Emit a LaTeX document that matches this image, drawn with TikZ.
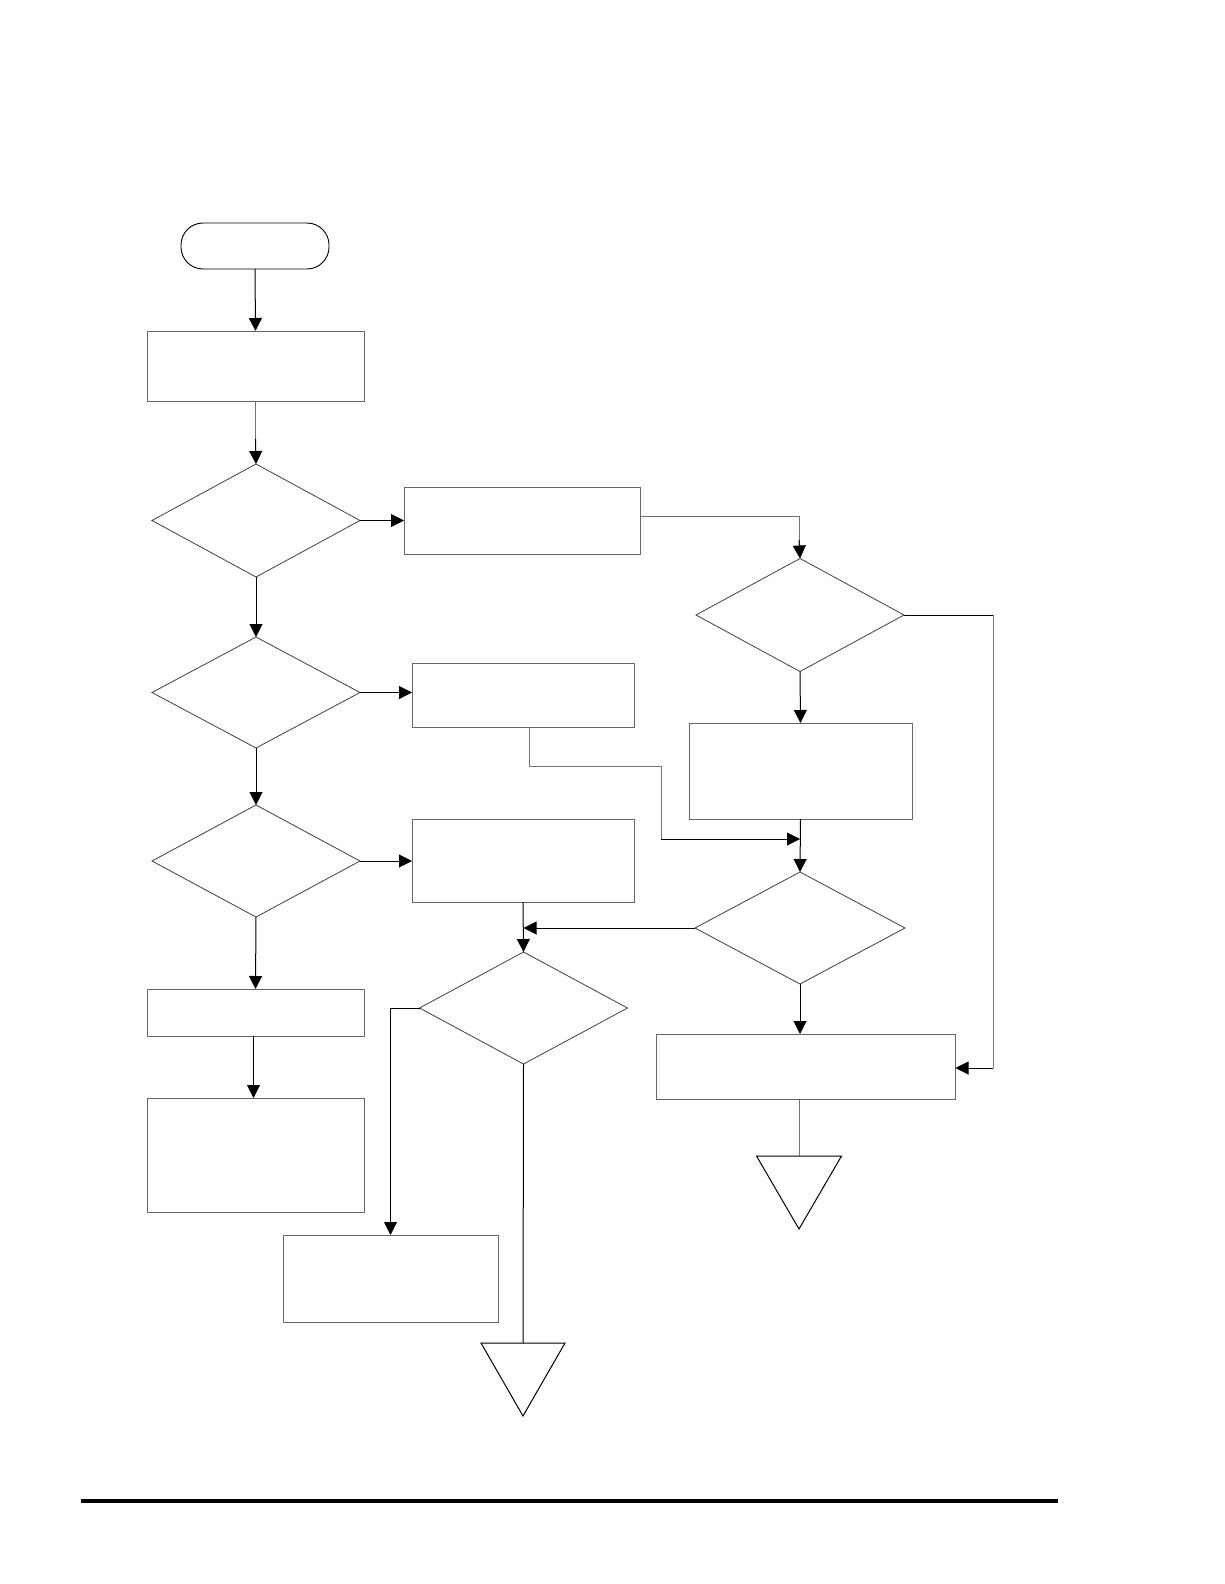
\documentclass[tikz,border=0pt]{standalone}
\usetikzlibrary{shapes.geometric,arrows.meta}
\begin{document}
\begin{tikzpicture}[x=1pt,y=-1pt,
  box/.style={draw=black!60,line width=0.8pt,rectangle,inner sep=0pt,outer sep=0pt},
  term/.style={draw=black,line width=0.9pt,rectangle,rounded corners=22pt,inner sep=0pt,outer sep=0pt},
  dec/.style={draw=black!75,line width=0.8pt,diamond,inner sep=0pt,outer sep=0pt,minimum width=208pt,minimum height=112pt},
  conn/.style={draw=black,line width=1pt},
  gconn/.style={draw=black!55,line width=0.9pt},
  arr/.style={-{Triangle[length=13pt,width=13pt]}},
  tri/.style={draw=black,line width=1pt,line join=miter}]
\fill[white] (0,0) rectangle (1224,1584);
\useasboundingbox (0,0) rectangle (1224,1584);

% nodes
\node[term,minimum width=148pt,minimum height=46pt] (start) at (255,246) {};
\node[box,minimum width=217pt,minimum height=70pt] (b1) at (255.5,366) {};
\node[dec,minimum height=113pt] (d1) at (256,520.5) {};
\node[box,minimum width=236pt,minimum height=67pt] (b2) at (522,520.5) {};
\node[dec,minimum height=111pt] (d2) at (256,692.5) {};
\node[box,minimum width=222pt,minimum height=64pt] (b3) at (523,695) {};
\node[dec] (d3) at (256,861) {};
\node[box,minimum width=222pt,minimum height=83pt] (b4) at (523,860.5) {};
\node[box,minimum width=217pt,minimum height=47pt] (l3) at (255.5,1012.5) {};
\node[box,minimum width=217pt,minimum height=114pt] (l4) at (255.5,1155) {};
\node[dec] (d4) at (523.5,1008) {};
\node[box,minimum width=215pt,minimum height=87pt] (l5) at (390.5,1278.5) {};
\node[dec,minimum height=113pt] (r1) at (800,615) {};
\node[box,minimum width=223pt,minimum height=96pt] (r2) at (800.5,771) {};
\node[dec,minimum width=210pt] (d5) at (800,928) {};
\node[box,minimum width=299pt,minimum height=65pt] (r3) at (806,1066.5) {};

\coordinate (tm) at (523,1343);
\coordinate (tr) at (799,1156);
\coordinate (j1) at (800,839);
\coordinate (j2) at (523.5,928);

% triangles
\draw[tri] (tm) ++(-42,0) -- ++(84,0) -- ++(-42,73) -- cycle;
\draw[tri] (tr) ++(-42.5,0) -- ++(85,0) -- ++(-42.5,73) -- cycle;

% connectors
\draw[conn,arr] (start.south) -- (b1.north);
\draw[gconn] (b1.south) -- ++(0,40);
\draw[conn,arr] (b1.south) ++(0,38) -- (d1.north);
\draw[conn,arr] (d1.east) -- (b2.west);
\draw[conn,arr] (d1.south) -- (d2.north);
\draw[conn,arr] (d2.east) -- (d2.east -| b3.west);
\draw[conn,arr] (d2.south) -- (d3.north);
\draw[conn,arr] (d3.east) -- (d3.east -| b4.west);
\draw[conn,arr] (d3.south) -- (l3.north);
\draw[conn,arr] ([xshift=-2pt]l3.south) -- ([xshift=-2pt]l4.north);
\draw[gconn] (b2.east |- 0,516) -- (799,516) -- ++(0,28);
\draw[conn,arr] (799,540) -- (r1.north);
\draw[conn] (r1.east) -- (993,615);
\draw[gconn] (993,615) -- (993,1068);
\draw[conn,arr] (993,1068) -- (r3.east |- 0,1068);
\draw[conn,arr] (r1.south) -- (r2.north);
\draw[conn,arr] (r2.south) -- (d5.north);
\draw[gconn] (529,727) -- (529,766) -- (661,766) -- (661,839);
\draw[conn,arr] (661,839) -- (j1);
\draw[conn,arr] (b4.south) -- (d4.north);
\draw[conn,arr] (d5.west) -- (j2);
\draw[conn,arr] (d5.south) -- (d5.south |- r3.north);
\draw[gconn] (r3.south -| tr) -- (tr);
\draw[conn,arr] (d4.west) -| (l5.north);
\draw[conn] (d4.south) -- (tm);

% bottom rule
\draw[line width=3.5pt] (81,1501) -- (1058,1501);
\end{tikzpicture}
\end{document}
